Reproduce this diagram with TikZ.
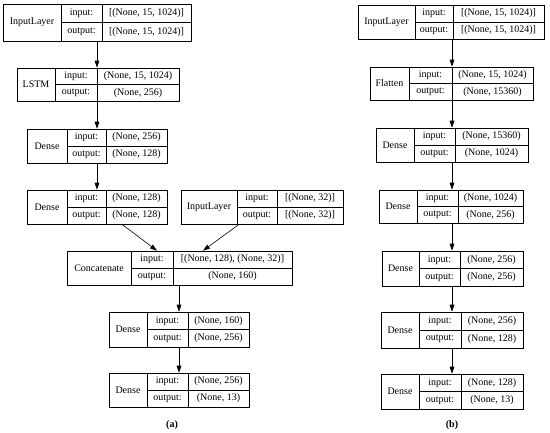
\documentclass[tikz,border=0pt]{standalone}
\usepackage{fontspec}
\setmainfont{Liberation Serif}
\usetikzlibrary{fit,arrows.meta}
\tikzset{
  boxframe/.style={draw, line width=0.6pt, inner sep=0pt},
  rule/.style={line width=0.6pt},
  txt/.style={inner sep=0pt, font=\fontsize{10}{12}\selectfont},
  arr/.style={line width=0.6pt, -{Triangle[length=7pt,width=4.6pt]}},
  captxt/.style={inner sep=0pt, font=\fontsize{10}{12}\selectfont\bfseries}
}
% #1 name #2 x1 #3 y1 #4 x2 #5 y2 #6 d1 #7 d2 #8 type #9 input value ; then {output value}
\newcommand\lyr[9]{%
  \def\Ln{#1}\def\Lxa{#2}\def\Lya{#3}\def\Lxb{#4}\def\Lyb{#5}\def\Lda{#6}\def\Ldb{#7}%
  \coordinate (#1-nw) at (#2,#3);
  \coordinate (#1-se) at (#4,#5);
  \node[boxframe, fit=(#1-nw)(#1-se)] (#1) {};
  \draw[rule] (#6,#3) -- (#6,#5);
  \draw[rule] (#7,#3) -- (#7,#5);
  \draw[rule] (#6,{(#3+#5)/2}) -- (#4,{(#3+#5)/2});
  \node[txt] (#1-type) at ({(#2+#6)/2},{(#3+#5)/2}) {#8};
  \node[txt] (#1-il) at ({(#6+#7)/2},{(#3+(#3+#5)/2)/2}) {input:};
  \node[txt] (#1-ol) at ({(#6+#7)/2},{(#5+(#3+#5)/2)/2}) {output:};
  \node[txt] (#1-iv) at ({(#7+#4)/2},{(#3+(#3+#5)/2)/2}) {#9};
  \lyrout}
\newcommand\lyrout[1]{%
  \node[txt] (\Ln-ov) at ({(\Ldb+\Lxb)/2},{(\Lyb+(\Lya+\Lyb)/2)/2}) {#1};}
\begin{document}
\begin{tikzpicture}[x=1pt,y=-1pt]
\useasboundingbox (0,0) rectangle (550,432);
% (a)
\lyr{A1}{3}{4}{191}{41}{61}{102}{InputLayer}{[(None, 15, 1024)]}{[(None, 15, 1024)]}
\lyr{A2}{17}{68}{179}{101}{55}{97}{LSTM}{(None, 15, 1024)}{(None, 256)}
\lyr{A3}{27}{129}{167}{163}{67}{106}{Dense}{(None, 256)}{(None, 128)}
\lyr{A4}{27}{190}{167}{224}{67}{106}{Dense}{(None, 128)}{(None, 128)}
\lyr{A5}{181}{190}{343}{224}{237}{277}{InputLayer}{[(None, 32)]}{[(None, 32)]}
\lyr{A6}{67}{251}{292}{285}{131}{173}{Concatenate}{[(None, 128), (None, 32)]}{(None, 160)}
\lyr{A7}{109}{312}{249}{347}{147}{188}{Dense}{(None, 160)}{(None, 256)}
\lyr{A8}{109}{373}{249}{407}{147}{188}{Dense}{(None, 256)}{(None, 13)}
\draw[arr] (A1.south -| 97,0) -- (A2.north -| 97,0);
\draw[arr] (A2.south -| 97,0) -- (A3.north -| 97,0);
\draw[arr] (A3.south -| 97,0) -- (A4.north -| 97,0);
\draw[arr] (A4.south -| 122,0) -- (A6.north -| 157,0);
\draw[arr] (A5.south -| 239,0) -- (A6.north -| 203,0);
\draw[arr] (A6.south -| 179,0) -- (A7.north -| 179,0);
\draw[arr] (A7.south -| 179,0) -- (A8.north -| 179,0);
\node[captxt] (capa) at (172,425) {(a)};
% (b)
\lyr{B1}{358}{5}{544}{39}{415}{453}{InputLayer}{[(None, 15, 1024)]}{[(None, 15, 1024)]}
\lyr{B2}{370}{67}{533}{100}{409}{452}{Flatten}{(None, 15, 1024)}{(None, 15360)}
\lyr{B3}{376}{128}{528}{162}{414}{455}{Dense}{(None, 15360)}{(None, 1024)}
\lyr{B4}{379}{190}{523}{223}{417}{458}{Dense}{(None, 1024)}{(None, 256)}
\lyr{B5}{382}{251}{523}{286}{419}{460}{Dense}{(None, 256)}{(None, 256)}
\lyr{B6}{381}{312}{523}{348}{419}{461}{Dense}{(None, 256)}{(None, 128)}
\lyr{B7}{381}{374}{523}{409}{419}{461}{Dense}{(None, 128)}{(None, 13)}
\draw[arr] (B1.south -| 452,0) -- (B2.north -| 452,0);
\draw[arr] (B2.south -| 452,0) -- (B3.north -| 452,0);
\draw[arr] (B3.south -| 452,0) -- (B4.north -| 452,0);
\draw[arr] (B4.south -| 452,0) -- (B5.north -| 452,0);
\draw[arr] (B5.south -| 452,0) -- (B6.north -| 452,0);
\draw[arr] (B6.south -| 452,0) -- (B7.north -| 452,0);
\node[captxt] (capb) at (452,425) {(b)};
\end{tikzpicture}
\end{document}
